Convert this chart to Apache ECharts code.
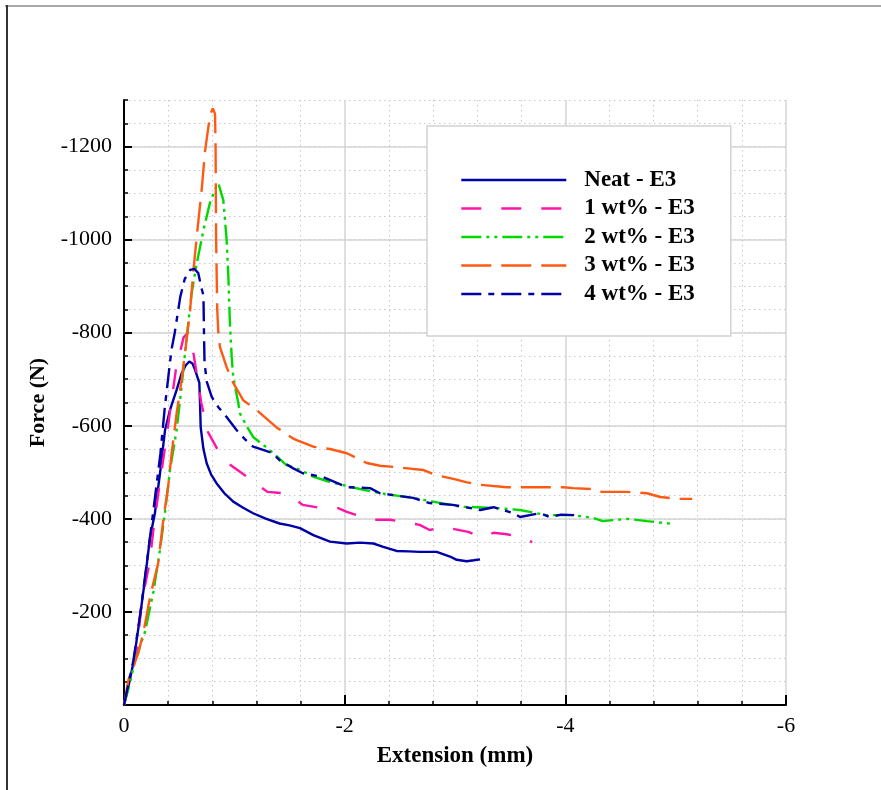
<!DOCTYPE html>
<html>
<head>
<meta charset="utf-8">
<script src="https://cdn.jsdelivr.net/npm/echarts@6/dist/echarts.min.js"></script>
<style>
  html, body { margin: 0; padding: 0; background: #fff; }
  #chart { width: 881px; height: 790px; }
</style>
</head>
<body>
<div id="chart"></div>
<script>
// Tensile test curves: extension (mm) vs force (N), both negative (compression sign convention)
const seriesNames = ['Neat - E3', '1 wt% - E3', '2 wt% - E3', '3 wt% - E3', '4 wt% - E3'];
const seriesColors = ['#0000a8', '#ff14a8', '#00d800', '#ff5a14', '#0000a8'];

const neatExt = [0, -0.04, -0.085, -0.145, -0.19, -0.236, -0.28, -0.33, -0.372, -0.417, -0.477, -0.523, -0.56, -0.592, -0.62, -0.644, -0.683, -0.689, -0.695, -0.72, -0.75, -0.79, -0.84, -0.91, -0.99, -1.08, -1.17, -1.29, -1.41, -1.5, -1.595, -1.716, -1.867, -2.018, -2.14, -2.26, -2.35, -2.47, -2.58, -2.68, -2.834, -2.955, -3.015, -3.106, -3.17, -3.227];
const neatForce = [0, -40, -90, -190, -270, -360, -412, -505, -591, -634, -677, -713, -730, -738, -734, -720, -692, -649, -597, -550, -519, -495, -476, -455, -437, -424, -412, -400, -390, -386, -380, -365, -351, -347, -349, -347, -340, -331, -330, -329, -329, -319, -312, -309, -311, -313];

const wt1Ext = [0, -0.05, -0.115, -0.16, -0.236, -0.266, -0.311, -0.372, -0.417, -0.47, -0.54, -0.58, -0.63, -0.66, -0.7, -0.76, -0.85, -0.94, -1.07, -1.19, -1.3, -1.44, -1.53, -1.62, -1.79, -1.94, -2.02, -2.11, -2.26, -2.41, -2.55, -2.68, -2.77, -2.89, -2.95, -3.12, -3.23, -3.35, -3.47, -3.59, -3.7];
const wt1Force = [0, -50, -112, -219, -312, -376, -455, -554, -630, -720, -790, -800, -755, -710, -650, -587, -548, -520, -498, -477, -458, -455, -445, -430, -423, -423, -415, -408, -398, -398, -393, -387, -376, -382, -380, -372, -361, -370, -367, -361, -350];

const wt2Ext = [0, -0.054, -0.1, -0.19, -0.266, -0.326, -0.372, -0.417, -0.477, -0.52, -0.568, -0.613, -0.66, -0.72, -0.78, -0.83, -0.855, -0.9, -0.93, -0.946, -0.96, -0.976, -0.99, -1.01, -1.036, -1.05, -1.11, -1.17, -1.32, -1.47, -1.6, -1.72, -1.87, -2.05, -2.18, -2.32, -2.47, -2.62, -2.8, -3.05, -3.2, -3.38, -3.59, -3.83, -4.07, -4.25, -4.34, -4.56, -4.74, -4.86, -4.98];
const wt2Force = [0, -47, -95, -157, -243, -333, -415, -505, -591, -680, -790, -885, -950, -1020, -1080, -1110, -1121, -1085, -1000, -920, -820, -748, -705, -680, -649, -627, -600, -576, -548, -516, -505, -490, -479, -469, -462, -455, -450, -445, -437, -426, -425, -423, -419, -408, -408, -402, -395, -400, -395, -392, -389];

const wt3Ext = [0, -0.04, -0.13, -0.175, -0.236, -0.31, -0.356, -0.4, -0.432, -0.477, -0.523, -0.553, -0.598, -0.628, -0.664, -0.704, -0.734, -0.78, -0.805, -0.825, -0.83, -0.835, -0.845, -0.855, -0.87, -0.93, -0.99, -1.08, -1.2, -1.38, -1.53, -1.565, -1.716, -1.867, -2.02, -2.2, -2.32, -2.47, -2.71, -2.83, -2.985, -3.1, -3.23, -3.47, -3.71, -3.98, -4.07, -4.25, -4.33, -4.56, -4.74, -4.86, -5.01, -5.15];
const wt3Force = [0, -54, -112, -155, -232, -305, -398, -469, -541, -627, -700, -756, -845, -931, -1017, -1107, -1189, -1268, -1282, -1270, -1200, -1000, -850, -800, -769, -726, -692, -655, -634, -597, -573, -569, -555, -550, -541, -520, -514, -511, -505, -494, -486, -479, -473, -468, -468, -468, -466, -464, -458, -458, -455, -447, -443, -443];

const wt4Ext = [0, -0.04, -0.085, -0.15, -0.236, -0.33, -0.37, -0.43, -0.46, -0.51, -0.55, -0.6, -0.64, -0.673, -0.7, -0.72, -0.725, -0.73, -0.75, -0.795, -0.855, -0.93, -1.02, -1.1, -1.17, -1.34, -1.41, -1.53, -1.62, -1.8, -1.87, -2.02, -2.23, -2.32, -2.44, -2.62, -2.77, -2.98, -3.1, -3.23, -3.35, -3.53, -3.59, -3.77, -3.86, -3.96, -4.08];
const wt4Force = [0, -45, -95, -200, -360, -540, -640, -763, -800, -877, -915, -935, -937, -928, -898, -880, -800, -735, -695, -662, -640, -619, -591, -570, -555, -542, -526, -509, -498, -490, -483, -468, -466, -455, -451, -445, -434, -430, -425, -419, -425, -412, -404, -412, -404, -409, -408];

// Axis ranges and labelled tick values
const forceMajorTicks = [-1200, -1000, -800, -600, -400, -200];
const forceRange = [-1300, 0];
const extRange = [-6, 0];

const exts = [neatExt, wt1Ext, wt2Ext, wt3Ext, wt4Ext];
const forces = [neatForce, wt1Force, wt2Force, wt3Force, wt4Force];
const dashPatterns = ['solid', [20, 20], [20, 5, 3, 5, 3, 5], [30, 10], [20, 7, 6, 7]];

const serif = '"Liberation Serif", "Times New Roman", serif';

const series = seriesNames.map((name, i) => ({
  type: 'line',
  name: name,
  data: exts[i].map((x, k) => [x, forces[i][k]]),
  symbol: 'none',
  xAxisIndex: 0,
  yAxisIndex: 0,
  lineStyle: { color: seriesColors[i], width: 2.4, type: dashPatterns[i] },
  itemStyle: { color: seriesColors[i] },
  z: 3
}));

const chart = echarts.init(document.getElementById('chart'), null, { renderer: 'canvas' });
chart.setOption({
  animation: false,
  backgroundColor: '#fff',
  grid: { left: 124, right: 95, top: 100, bottom: 85, containLabel: false },
  xAxis: {
    type: 'value',
    min: extRange[0], max: extRange[1], interval: 2,
    inverse: true,
    name: 'Extension (mm)',
    nameLocation: 'middle',
    nameGap: 40,
    nameTextStyle: { fontFamily: serif, fontWeight: 'bold', fontSize: 23, color: '#000' },
    axisLine: { show: true, onZero: false, lineStyle: { color: '#000', width: 2 } },
    axisTick: { show: true, inside: true, length: 10, lineStyle: { color: '#000', width: 2 } },
    minorTick: { show: true, splitNumber: 5, length: 4, lineStyle: { color: '#000', width: 1.5 } },
    axisLabel: { margin: 10, fontFamily: serif, fontSize: 22, color: '#000', formatter: v => String(v) },
    splitLine: { show: true, lineStyle: { color: '#d4d4d4', width: 1.5 } },
    minorSplitLine: { show: true, lineStyle: { color: '#c8c8c8', width: 1, type: [1.5, 3.5] } }
  },
  yAxis: [
    {
      type: 'value',
      min: forceRange[0], max: forceRange[1], interval: 50,
      inverse: true,
      position: 'left',
      axisLine: { show: true, onZero: false, lineStyle: { color: '#000', width: 2 } },
      axisTick: { show: true, inside: true, length: 4, lineStyle: { color: '#000', width: 1.5 } },
      axisLabel: { show: false },
      splitLine: { show: true, lineStyle: { color: '#c8c8c8', width: 1, type: [1.5, 3.5] } }
    },
    {
      type: 'value',
      min: forceRange[0], max: forceRange[1], splitNumber: 7,
      inverse: true,
      position: 'left',
      offset: 0,
      name: 'Force (N)',
      nameLocation: 'middle',
      nameGap: 62,
      nameTextStyle: { fontFamily: serif, fontWeight: 'bold', fontSize: 22, color: '#000' },
      axisLine: { show: false },
      axisTick: { show: true, inside: true, length: 8, customValues: forceMajorTicks, lineStyle: { color: '#000', width: 2 } },
      axisLabel: { margin: 12, customValues: forceMajorTicks, fontFamily: serif, fontSize: 22, color: '#000', formatter: v => String(v) },
      splitLine: { show: true, lineStyle: { color: '#d4d4d4', width: 1.5 } }
    }
  ],
  legend: {
    orient: 'vertical',
    left: 427, top: 126,
    padding: [42.5, 36, 30.5, 33],
    itemWidth: 105, itemHeight: 14, itemGap: 5.5,
    backgroundColor: '#fff',
    borderColor: '#d2d2d2', borderWidth: 1.5,
    itemStyle: { opacity: 0 },
    lineStyle: { width: 2.6 },
    textStyle: { fontFamily: serif, fontWeight: 'bold', fontSize: 23, color: '#000', padding: [0, 0, 0, 13] },
    data: seriesNames
  },
  graphic: [
    { type: 'rect', shape: { x: 5, y: 5, width: 876, height: 2 }, style: { fill: '#a8a8a8' }, silent: true },
    { type: 'rect', shape: { x: 6, y: 5, width: 2, height: 785 }, style: { fill: '#333' }, silent: true }
  ],
  series: series
});
</script>
</body>
</html>
